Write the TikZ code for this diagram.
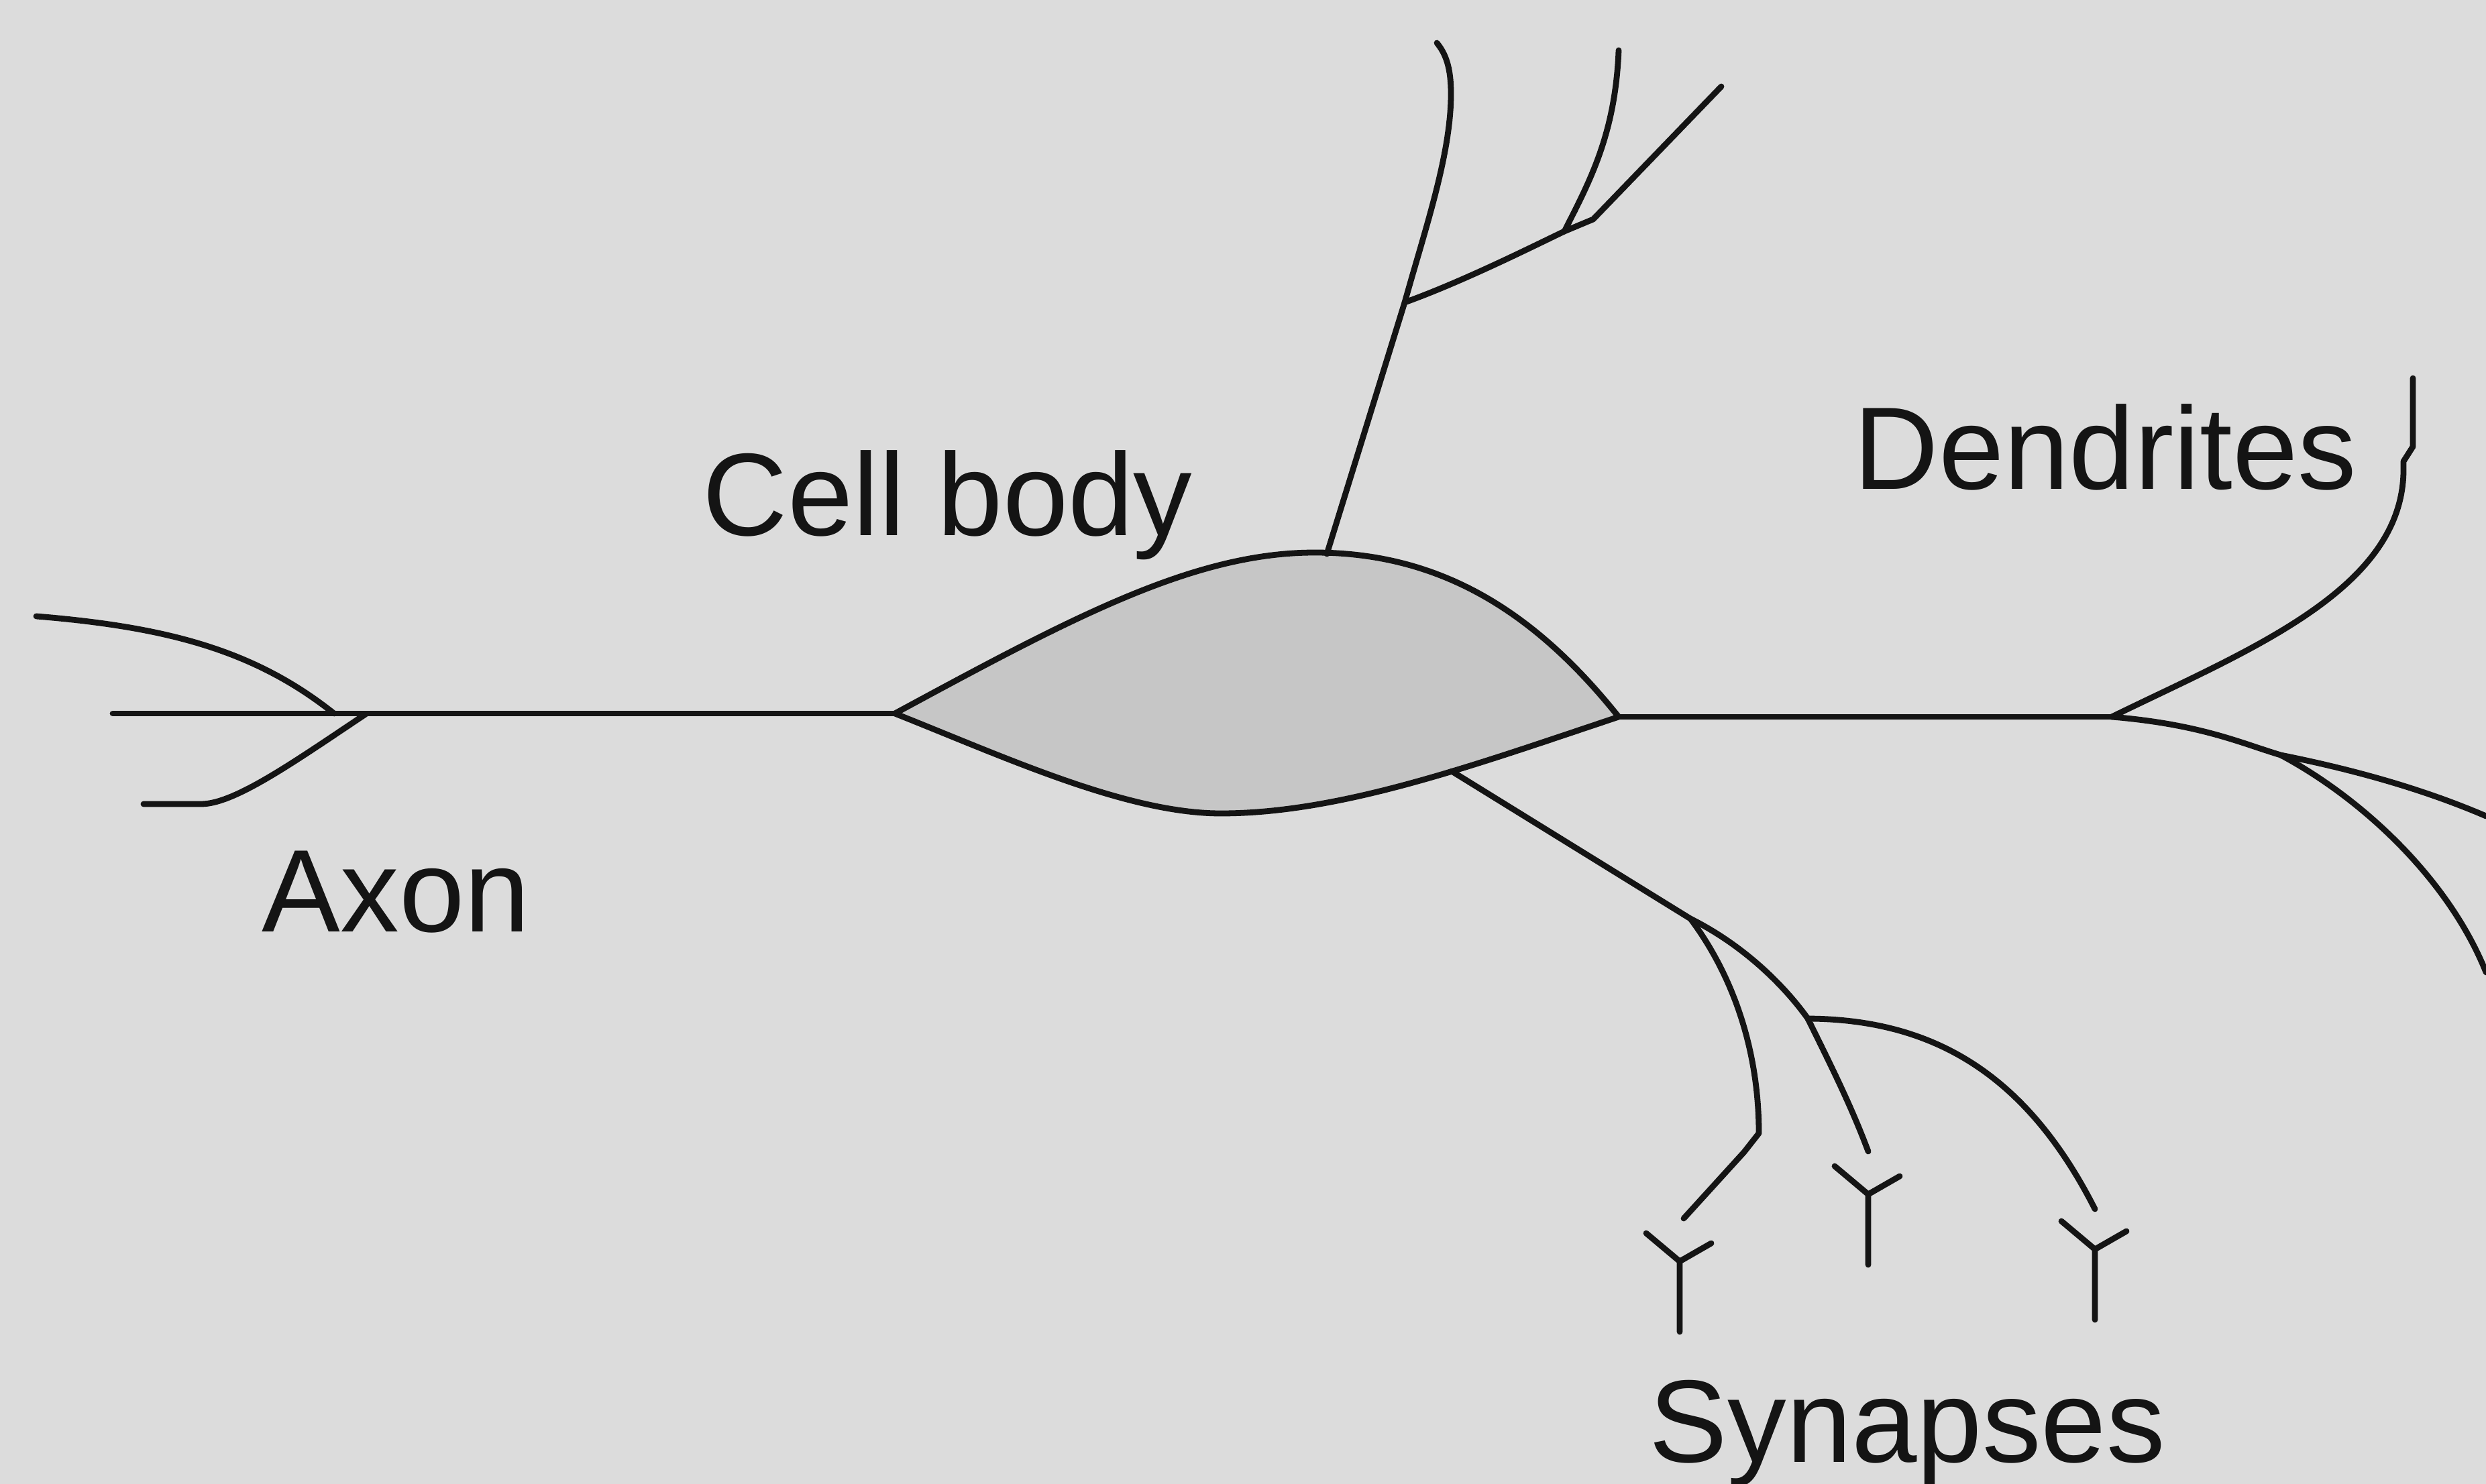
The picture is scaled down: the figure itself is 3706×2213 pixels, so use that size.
\documentclass[tikz,border=0pt]{standalone}
\usepackage{fontspec}
\setmainfont{Liberation Sans}
\definecolor{paper}{RGB}{220,220,220}
\definecolor{soma}{RGB}{198,198,198}
\definecolor{ink}{RGB}{20,20,20}
\begin{document}
\begin{tikzpicture}[x=0.01cm,y=-0.01cm,
  neurite/.style={draw=ink, line width=2.5pt, line join=round, line cap=round},
  label/.style={text=ink, inner sep=0pt, anchor=base west, font=\fontsize{49.8}{60}\selectfont},
  synapse/.pic={\draw[neurite] (-50,-42) -- (0,0) -- (47,-27) (0,0) -- (0,105);}]
\fill[paper] (0,0) rectangle (3706,2213);
\useasboundingbox (0,0) rectangle (3706,2213);

% junctions
\coordinate (axEnd)   at (168,1064);
\coordinate (axUp)    at (498,1064);
\coordinate (axLow)   at (545,1065);
\coordinate (somaL)   at (1334,1064);
\coordinate (somaR)   at (2413,1069);
\coordinate (somaTop) at (1978,826);
\coordinate (somaLow) at (2164,1150);
\coordinate (upJ)     at (2094,451);
\coordinate (upJ2)    at (2332,345);
\coordinate (dJ)      at (3148,1069);
\coordinate (dJ2)     at (3400,1126);
\coordinate (sJ)      at (2520,1370);
\coordinate (sJ2)     at (2695,1519);

% cell body
\draw[neurite, fill=soma]
  (somaL) .. controls (1600,920) and (1780,824) .. (1960,824)
          .. controls (2150,824) and (2290,915) .. (somaR)
          .. controls (2200,1140) and (2000,1213) .. (1820,1213)
          .. controls (1680,1213) and (1500,1130) .. (somaL) -- cycle;

% axon and its terminal branches
\draw[neurite] (axEnd) -- (somaL);
\draw[neurite] (54,919) .. controls (250,935) and (380,970) .. (axUp);
\draw[neurite] (axLow) .. controls (440,1135) and (350,1199) .. (300,1199) -- (214,1199);

% process to the right of the cell body
\draw[neurite] (somaR) -- (dJ);
\draw[neurite] (dJ) .. controls (3350,970) and (3583,880) .. (3583,700)
  -- (3583,688) -- (3597,666) -- (3597,564);
\draw[neurite] (dJ) .. controls (3280,1080) and (3340,1108) .. (dJ2)
  .. controls (3520,1150) and (3620,1180) .. (3706,1217);
\draw[neurite] (dJ2) .. controls (3520,1190) and (3650,1310) .. (3706,1450);

% dendrite rising from the top of the cell body
\draw[neurite] (somaTop) -- (upJ);
\draw[neurite] (upJ) .. controls (2125,340) and (2163,230) .. (2163,140)
  .. controls (2163,100) and (2155,80) .. (2142,64);
\draw[neurite] (upJ) .. controls (2180,420) and (2280,370) .. (upJ2)
  -- (2375,327) -- (2566,129);
\draw[neurite] (upJ2) .. controls (2370,270) and (2408,200) .. (2413,75);

% branch ending in synapses
\draw[neurite] (somaLow) -- (sJ);
\draw[neurite] (sJ) .. controls (2580,1450) and (2622,1560) .. (2622,1690)
  -- (2600,1718) -- (2510,1817);
\draw[neurite] (sJ) .. controls (2600,1410) and (2660,1470) .. (sJ2);
\draw[neurite] (sJ2) .. controls (2730,1590) and (2760,1650) .. (2785,1717);
\draw[neurite] (sJ2) .. controls (2880,1520) and (3020,1600) .. (3123,1803);

% synaptic terminals
\pic (syn1) at (2504,1881) {synapse};
\pic (syn2) at (2785,1781) {synapse};
\pic (syn3) at (3123,1863) {synapse};

% labels
\node[label] (cellbody)  at (1047,799)  {Cell body};
\node[label] (dendrites) at (2763,730)  {Dendrites};
\node[label] (axon)      at (390,1389)  {Axon};
\node[label] (synapses)  at (2458,2180) {Synapses};
\end{tikzpicture}
\end{document}
